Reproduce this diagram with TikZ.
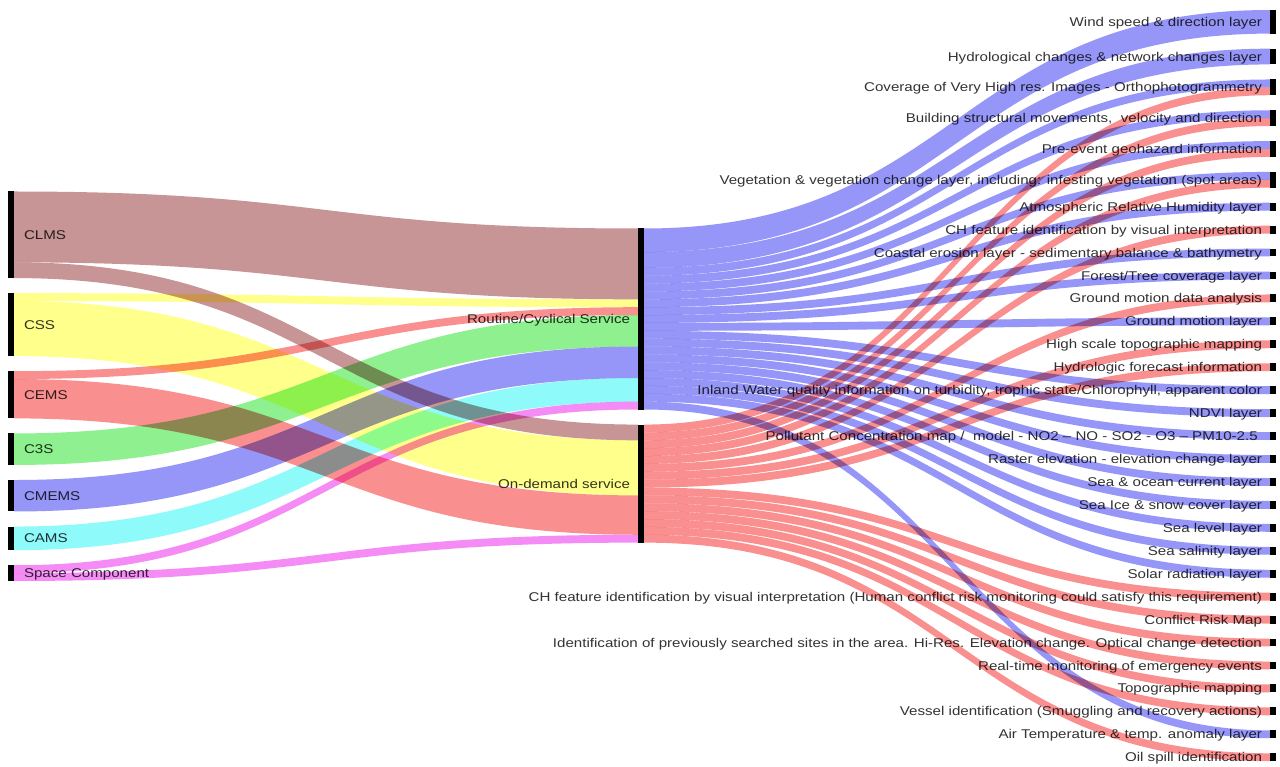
\documentclass[tikz,border=0pt]{standalone}
\usepackage{fontspec}
\setmainfont{Liberation Sans}[FakeStretch=1.19]
\usetikzlibrary{calc}
\definecolor{cclms}{RGB}{199,149,149}
\definecolor{ccss}{RGB}{255,255,140}
\definecolor{ccems}{RGB}{250,143,143}
\definecolor{cc3s}{RGB}{142,240,142}
\definecolor{ccmems}{RGB}{150,150,248}
\definecolor{ccams}{RGB}{142,250,250}
\definecolor{cspace}{RGB}{245,140,245}
\definecolor{crout}{RGB}{150,150,248}
\definecolor{cod}{RGB}{250,143,143}
\definecolor{txt}{RGB}{51,51,51}
\newcommand\flowu{7.87}
\newcommand\flow[6]{%
 \fill[#6] let \p1=($(#1.north east)+(0,#2*\flowu)$), \p2=($(#3.north west)+(0,#4*\flowu)$) in
 (\p1) .. controls ({(\x1+\x2)/2},\y1) and ({(\x1+\x2)/2},\y2) .. (\p2)
 -- (\x2,{\y2-#5*\flowu*1pt}) .. controls ({(\x1+\x2)/2},{\y2-#5*\flowu*1pt}) and ({(\x1+\x2)/2},{\y1-#5*\flowu*1pt}) .. (\x1,{\y1-#5*\flowu*1pt}) -- cycle;}
\tikzset{
 bar/.style={fill=black, inner sep=0pt, outer sep=0pt, minimum width=6pt, minimum height=#1*7.87pt, anchor=north west},
 lbl/.style={text=txt, inner sep=0pt, outer sep=0pt, font=\fontsize{12.7pt}{15pt}\selectfont, text height=9.1pt, text depth=0pt},
 llbl/.style={lbl, anchor=west},
 rlbl/.style={lbl, anchor=east}
}
\newcommand\rnode[4]{%
 \node[bar=#3] (#1) at (1270,#2) {};
 \node[rlbl] (#1-l) at ($(#1.west)+(-8,0)$) {#4};}
\begin{document}
\begin{tikzpicture}[x=1pt,y=-1pt]
\fill[white] (0,0) rectangle (1280,767);
\useasboundingbox (0,0) rectangle (1280,767);
% left column
\node[bar=11] (clms) at (8,191.5) {};
\node[bar=8] (css) at (8,293.14) {};
\node[bar=6] (cems) at (8,371.17) {};
\node[bar=4] (c3s) at (8,433.46) {};
\node[bar=4] (cmems) at (8,480.01) {};
\node[bar=3] (cams) at (8,526.56) {};
\node[bar=2] (space) at (8,565.24) {};
\node[llbl] (clms-l) at ($(clms.east)+(10,0)$) {CLMS};
\node[llbl] (css-l) at ($(css.east)+(10,0)$) {CSS};
\node[llbl] (cems-l) at ($(cems.east)+(10,0)$) {CEMS};
\node[llbl] (c3s-l) at ($(c3s.east)+(10,0)$) {C3S};
\node[llbl] (cmems-l) at ($(cmems.east)+(10,0)$) {CMEMS};
\node[llbl] (cams-l) at ($(cams.east)+(10,0)$) {CAMS};
\node[llbl] (space-l) at ($(space.east)+(10,0)$) {Space Component};
% middle column
\node[bar=23] (rout) at (638,228.5) {};
\node[bar=15] (od) at (638,424.58) {};
\node[rlbl] (rout-l) at ($(rout.west)+(-8,0)$) {Routine/Cyclical Service};
\node[rlbl] (od-l) at ($(od.west)+(-8,0)$) {On-demand service};
% right column
\rnode{wind}{10}{3}{Wind speed \& direction layer}
\rnode{hydro}{48.68}{2}{Hydrological changes \& network changes layer}
\rnode{cover}{79.49}{2}{Coverage of Very High res. Images - Orthophotogrammetry}
\rnode{build}{110.30}{2}{Building structural movements, \ velocity and direction}
\rnode{preev}{141.11}{2}{Pre-event geohazard information}
\rnode{veget}{171.92}{2}{Vegetation \& vegetation change layer, including: infesting vegetation (spot areas)}
\rnode{atmos}{202.73}{1}{Atmospheric Relative Humidity layer}
\rnode{chvis}{225.67}{1}{CH feature identification by visual interpretation}
\rnode{coast}{248.61}{1}{Coastal erosion layer - sedimentary balance \& bathymetry}
\rnode{forest}{271.55}{1}{Forest/Tree coverage layer}
\rnode{gmda}{294.49}{1}{Ground motion data analysis}
\rnode{gml}{317.43}{1}{Ground motion layer\ }
\rnode{hscale}{340.37}{1}{High scale topographic mapping}
\rnode{hydfc}{363.31}{1}{Hydrologic forecast information}
\rnode{inland}{386.25}{1}{Inland Water quality information on turbidity, trophic state/Chlorophyll, apparent color}
\rnode{ndvi}{409.19}{1}{NDVI layer}
\rnode{pollut}{432.13}{1}{Pollutant Concentration map / \ model - NO2 – NO - SO2 - O3 – PM10-2.5\ \ }
\rnode{raster}{455.07}{1}{Raster elevation - elevation change layer}
\rnode{seaoc}{478.01}{1}{Sea \& ocean current layer}
\rnode{seaice}{500.95}{1}{Sea Ice \& snow cover layer}
\rnode{sealev}{523.89}{1}{Sea level layer}
\rnode{seasal}{546.83}{1}{Sea salinity layer}
\rnode{solar}{569.77}{1}{Solar radiation layer}
\rnode{chhcr}{592.71}{1}{CH feature identification by visual interpretation (Human conflict risk monitoring could satisfy this requirement)}
\rnode{conflict}{615.65}{1}{Conflict Risk Map}
\rnode{ident}{638.59}{1}{Identification of previously searched sites in the area. Hi-Res. Elevation change. Optical change detection}
\rnode{realt}{661.53}{1}{Real-time monitoring of emergency events}
\rnode{topo}{684.47}{1}{Topographic mapping}
\rnode{vessel}{707.41}{1}{Vessel identification (Smuggling and recovery actions)}
\rnode{airt}{730.35}{1}{Air Temperature \& temp. anomaly layer}
\rnode{oil}{753.29}{1}{Oil spill identification}
% flows
\begin{scope}[blend mode=multiply]
\flow{clms}{0}{rout}{0}{9}{cclms}
\flow{clms}{9}{od}{0}{2}{cclms}
\flow{css}{0}{rout}{9}{1}{ccss}
\flow{css}{1}{od}{2}{7}{ccss}
\flow{cems}{0}{rout}{10}{1}{ccems}
\flow{cems}{1}{od}{9}{5}{ccems}
\flow{c3s}{0}{rout}{11}{4}{cc3s}
\flow{cmems}{0}{rout}{15}{4}{ccmems}
\flow{cams}{0}{rout}{19}{3}{ccams}
\flow{space}{0}{rout}{22}{1}{cspace}
\flow{space}{1}{od}{14}{1}{cspace}
% routine
\flow{rout}{0}{wind}{0}{3}{crout}
\flow{rout}{3}{hydro}{0}{2}{crout}
\flow{rout}{5}{cover}{0}{1}{crout}
\flow{rout}{6}{build}{0}{1}{crout}
\flow{rout}{7}{preev}{0}{1}{crout}
\flow{rout}{8}{veget}{0}{1}{crout}
\flow{rout}{9}{atmos}{0}{1}{crout}
\flow{rout}{10}{coast}{0}{1}{crout}
\flow{rout}{11}{forest}{0}{1}{crout}
\flow{rout}{12}{gml}{0}{1}{crout}
\flow{rout}{13}{inland}{0}{1}{crout}
\flow{rout}{14}{ndvi}{0}{1}{crout}
\flow{rout}{15}{pollut}{0}{1}{crout}
\flow{rout}{16}{raster}{0}{1}{crout}
\flow{rout}{17}{seaoc}{0}{1}{crout}
\flow{rout}{18}{seaice}{0}{1}{crout}
\flow{rout}{19}{sealev}{0}{1}{crout}
\flow{rout}{20}{seasal}{0}{1}{crout}
\flow{rout}{21}{solar}{0}{1}{crout}
\flow{rout}{22}{airt}{0}{1}{crout}
% on-demand
\flow{od}{0}{cover}{1}{1}{cod}
\flow{od}{1}{build}{1}{1}{cod}
\flow{od}{2}{preev}{1}{1}{cod}
\flow{od}{3}{veget}{1}{1}{cod}
\flow{od}{4}{chvis}{0}{1}{cod}
\flow{od}{5}{gmda}{0}{1}{cod}
\flow{od}{6}{hscale}{0}{1}{cod}
\flow{od}{7}{hydfc}{0}{1}{cod}
\flow{od}{8}{chhcr}{0}{1}{cod}
\flow{od}{9}{conflict}{0}{1}{cod}
\flow{od}{10}{ident}{0}{1}{cod}
\flow{od}{11}{realt}{0}{1}{cod}
\flow{od}{12}{topo}{0}{1}{cod}
\flow{od}{13}{vessel}{0}{1}{cod}
\flow{od}{14}{oil}{0}{1}{cod}
\end{scope}
\end{tikzpicture}
\end{document}
